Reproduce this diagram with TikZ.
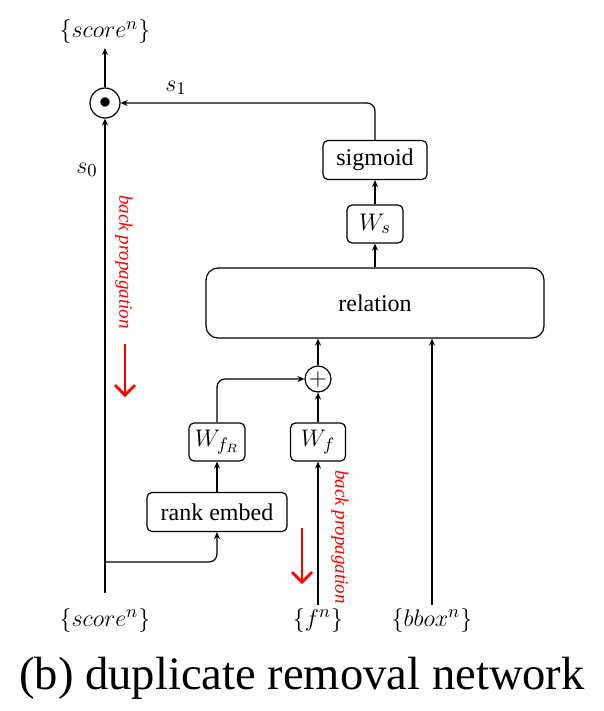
\documentclass[tikz,border=0pt]{standalone}
\usepackage{fontspec}
\setmainfont{Liberation Serif}
\usetikzlibrary{arrows.meta}
\begin{document}
\begin{tikzpicture}[x=0.5pt,y=-0.5pt,
  every node/.style={font=\fontsize{12}{14}\selectfont},
  mth/.style={font=\fontsize{13}{15}\selectfont},
  box/.style={draw,rounded corners=2.5pt,line width=0.6pt,inner sep=0pt},
  arr/.style={line width=0.6pt,-{Stealth[length=3.5pt,width=3pt]}},
  op/.style={draw,circle,line width=0.6pt,inner sep=0pt},
  bp/.style={red,rotate=-90,font=\itshape\fontsize{9.5}{11}\selectfont},
  redarr/.style={red,line width=1.4pt,-{Straight Barb[length=5pt,width=10pt]}}]
\useasboundingbox (0,0) rectangle (604,711);
% nodes
\node[op,minimum size=15pt] (odot) at (105,103) {$\bullet$};
\node[mth] (sctop) at (105,32) {$\{score^n\}$};
\node[box,minimum width=52pt,minimum height=19.5pt] (sig) at (375,160) {sigmoid};
\node[box,mth,minimum width=28pt,minimum height=19pt] (ws) at (375,224) {$W_s$};
\node[box,rounded corners=6pt,minimum width=169pt,minimum height=35pt] (rel) at (375,303) {relation};
\node[op,mth,minimum size=13pt] (plus) at (318,379) {$+$};
\node[box,mth,minimum width=27.5pt,minimum height=19pt] (wf) at (318,442) {$W_f$};
\node[box,mth,minimum width=28pt,minimum height=19pt] (wfr) at (217,442) {$W_{f_R}$};
\node[box,minimum width=70pt,minimum height=19.5pt] (rank) at (217,512) {rank embed};
\node[mth] (s1) at (176,88) {$s_1$};
\node[mth] (s0) at (87,170) {$s_0$};
\node[mth] (scbot) at (105,620) {$\{score^n\}$};
\node[mth] (fbotl) at (318,620) {$\{f^n\}$};
\node[mth] (bboxl) at (432,620) {$\{bbox^n\}$};
\coordinate (lv) at (105,593);
\coordinate (topend) at (105,48);
\coordinate (branch) at (105,562);
\coordinate (fb) at (318,605);
\coordinate (bb) at (432,605);
% connectors
\draw[arr] (lv) -- (odot);
\draw[arr] (odot) -- (topend);
\draw[arr,rounded corners=4pt] (sig.north) |- (odot.east);
\draw[arr] (ws) -- (sig);
\draw[arr] (rel) -- (ws);
\draw[arr] (plus.north) -- (plus.north |- rel.south);
\draw[arr] (wf) -- (plus);
\draw[arr,rounded corners=4pt] (wfr.north) |- (plus.west);
\draw[arr] (rank) -- (wfr);
\draw[arr,rounded corners=4pt] (branch) -| (rank.south);
\draw[arr] (fb) -- (wf.south);
\draw[arr] (bb) -- (bb |- rel.south);
% back propagation
\node[bp] (bp1) at (124,262) {back propagation};
\node[bp] (bp2) at (340,537) {back propagation};
\coordinate (r1a) at (125,344);
\coordinate (r1b) at (125,397);
\coordinate (r2a) at (302,528);
\coordinate (r2b) at (302,584);
\draw[redarr] (r1a) -- (r1b);
\draw[redarr] (r2a) -- (r2b);
% caption
\node[font=\fontsize{23.3}{26}\selectfont] (cap) at (302,678) {(b) duplicate removal network};
\end{tikzpicture}
\end{document}
